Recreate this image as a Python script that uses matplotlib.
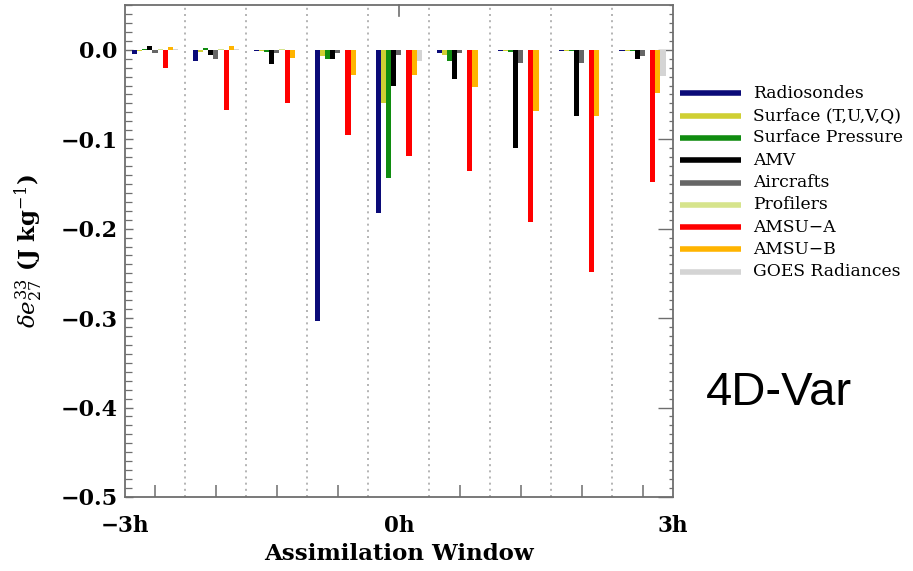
import matplotlib
matplotlib.use("Agg")
import matplotlib.pyplot as plt
import numpy as np
from matplotlib.ticker import MultipleLocator, FixedLocator
from matplotlib.lines import Line2D

plt.rcParams["mathtext.fontset"] = "dejavuserif"

# Time slots across the 6-hour assimilation window
n_slots = 9
tick_positions = [0, 4.5, 9]
tick_labels = ["\u22123h", "0h", "3h"]

series_names = ["Radiosondes", "Surface (T,U,V,Q)", "Surface Pressure", "AMV",
                "Aircrafts", "Profilers", "AMSU\u2212A", "AMSU\u2212B", "GOES Radiances"]
series_colors = ["#0b0b78", "#cfcf33", "#108c10", "#000000", "#666666",
                 "#d6e48c", "#ff0000", "#ffb400", "#d4d4d4"]

radiosondes = [-0.005, -0.013, -0.001, -0.303, -0.182, -0.004, -0.001, -0.001, -0.001]
surface_tuvq = [-0.001, -0.002, -0.001, -0.007, -0.060, -0.006, -0.001, -0.001, -0.001]
surface_pressure = [0.001, 0.0015, -0.002, -0.010, -0.143, -0.013, -0.002, -0.001, -0.001]
amv = [0.004, -0.006, -0.016, -0.010, -0.040, -0.033, -0.110, -0.074, -0.010]
aircrafts = [-0.004, -0.010, -0.004, -0.004, -0.006, -0.004, -0.015, -0.015, -0.007]
profilers = [0.001, 0.0005, 0.0005, 0.0, 0.0, 0.0, 0.0, 0.0, 0.0]
amsu_a = [-0.020, -0.067, -0.059, -0.095, -0.119, -0.135, -0.193, -0.248, -0.148]
amsu_b = [0.003, 0.004, -0.009, -0.028, -0.028, -0.042, -0.068, -0.074, -0.048]
goes = [0.001, 0.0005, 0.0, 0.0, -0.013, 0.0, 0.0, 0.0, -0.029]

series_values = [radiosondes, surface_tuvq, surface_pressure, amv, aircrafts,
                 profilers, amsu_a, amsu_b, goes]

W, H = 913, 571
fig = plt.figure(figsize=(W / 100, H / 100), dpi=100)
ax = fig.add_axes([0.1364, 0.1296, 0.6007, 0.8616])

serif = "DejaVu Serif"
spine_color = "#6e6e6e"

bar_w = 0.084
centers = np.arange(n_slots) + 0.5
n_series = len(series_values)
for k, (vals, col) in enumerate(zip(series_values, series_colors)):
    offs = (k - (n_series - 1) / 2) * bar_w
    ax.bar(centers + offs, vals, width=bar_w, color=col, edgecolor="none", zorder=3)

# Dotted separators between slots
for b in range(1, n_slots):
    ax.axvline(b, color="#a8a8a8", ls=(0, (1.2, 2.5)), lw=1.2, zorder=1)

ax.set_xlim(0, n_slots)
ax.set_ylim(-0.5, 0.05)

for s in ax.spines.values():
    s.set_color(spine_color)
    s.set_linewidth(1.3)

# x ticks: slot-centre marks along the bottom, labels at window start/centre/end
ax.set_xticks(tick_positions)
ax.set_xticklabels(tick_labels, fontfamily=serif, fontweight="bold", fontsize=15.5)
ax.xaxis.set_minor_locator(FixedLocator(list(centers)))
ax.tick_params(axis="x", which="major", direction="in", length=0, pad=13,
               color=spine_color)
ax.tick_params(axis="x", which="minor", direction="in", length=9, width=1.1,
               color=spine_color, top=False)
# single mark on the top edge at 0h
ax.plot([4.5, 4.5], [1.0, 0.977], transform=ax.get_xaxis_transform(),
        color=spine_color, lw=1.2, clip_on=False, zorder=4)

ax.yaxis.set_major_locator(MultipleLocator(0.1))
ax.yaxis.set_minor_locator(MultipleLocator(0.01))
ax.set_yticks([0.0, -0.1, -0.2, -0.3, -0.4, -0.5])
ax.set_yticklabels(["0.0", "\u22120.1", "\u22120.2", "\u22120.3", "\u22120.4", "\u22120.5"],
                   fontfamily=serif, fontweight="bold", fontsize=16)
ax.tick_params(axis="y", which="major", direction="in", length=6, width=1.0,
               color=spine_color, right=True, pad=5)
ax.tick_params(axis="y", which="minor", direction="in", length=5, width=0.9,
               color=spine_color, right=True)
for t in ax.yaxis.get_major_ticks():
    t.tick2line.set_markersize(11)
for t in ax.yaxis.get_minor_ticks():
    t.tick2line.set_markersize(3)

ax.set_xlabel("Assimilation Window", fontfamily=serif, fontweight="bold",
              fontsize=16.5, labelpad=4)
ax.set_ylabel(r"$\delta e_{27}^{33}$ (J kg$^{-1}$)", fontfamily=serif,
              fontweight="bold", fontsize=16.5, labelpad=11)

# Legend: line samples with labels beside the axes
leg_x0, leg_x1, leg_tx = 680 / W, 741 / W, 753 / W
leg_y0, leg_dy = 93.3, 22.3
for k, (name, col) in enumerate(zip(series_names, series_colors)):
    yy = 1 - (leg_y0 + k * leg_dy) / H
    fig.add_artist(Line2D([leg_x0, leg_x1], [yy, yy], color=col, lw=4,
                          transform=fig.transFigure, solid_capstyle="butt"))
    fig.text(leg_tx, yy, name, fontfamily=serif, fontsize=12.3, ha="left",
             va="center")

fig.text(0.853, 0.312, "4D-Var", fontfamily="Liberation Sans", fontsize=34,
         ha="center", va="center")

fig.savefig("out.png", dpi=100)
